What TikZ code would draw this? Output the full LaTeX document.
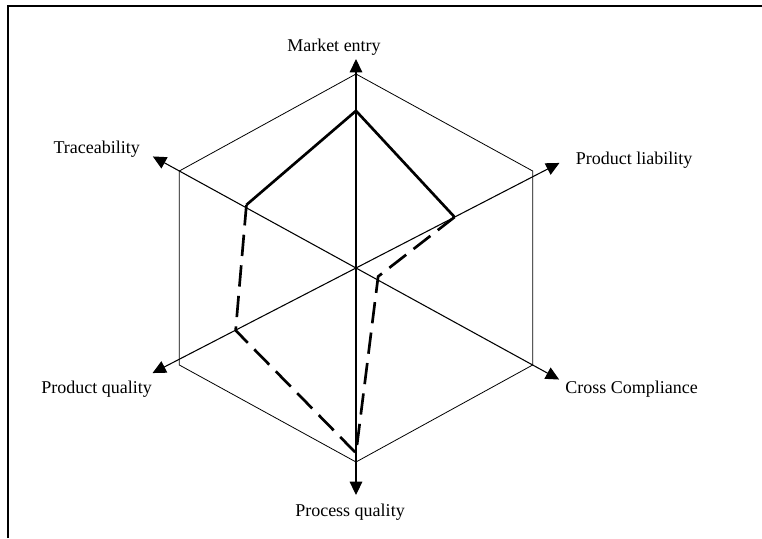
\documentclass[tikz,border=0pt]{standalone}
\usepackage{fontspec}
\setmainfont{Liberation Serif}
\usetikzlibrary{arrows.meta}
\begin{document}
\begin{tikzpicture}[x=153pt,y=145.5pt,
    axis/.style={line width=0.8pt,{Triangle[length=10pt,width=9.5pt]}-{Triangle[length=10pt,width=9.5pt]}},
    rim/.style={line width=0.6pt},
    score/.style={line width=2pt},
    scoredash/.style={score,dash pattern=on 16pt off 7pt},
    lbl/.style={anchor=base,inner sep=0pt,font=\fontsize{13.5}{16}\selectfont}]
      \useasboundingbox (-267pt,-202.5pt) rectangle (304.5pt,201pt);
      \draw[line width=1.5pt] (-261pt,-202.5pt) -- (-261pt,196.5pt) -- (304.5pt,196.5pt);
      % axis ends
      \path
        (90:1.077) coordinate (me)
        (28.5:1.135) coordinate (pl)
        (-30:1.15) coordinate (cc)
        (270:1.17) coordinate (pcq)
        (208.5:1.135) coordinate (pdq)
        (150:1.15) coordinate (tr);
      % hexagon corners
      \path
        (90:1) coordinate (h0)
        (30:1) coordinate (h1)
        (-30:1) coordinate (h2)
        (270:1) coordinate (h3)
        (210:1) coordinate (h4)
        (150:1) coordinate (h5);
      % scores
      \path
        (90:0.81) coordinate (sme)
        (28.5:0.55) coordinate (spl)
        (-22:0.117) coordinate (scc)
        (270:0.954) coordinate (spcq)
        (208.6:0.672) coordinate (spdq)
        (148.8:0.628) coordinate (str);
      \draw[rim] (h0) -- (h1) -- (h2) -- (h3) -- (h4) -- (h5) -- cycle;
      \begin{scope}[axis]
        \draw (pcq) to (me);
        \draw (cc) to (tr);
        \draw (pdq) to (pl);
      \end{scope}
      \draw[score] (str) -- (sme) -- (spl);
      \draw[scoredash] (spl) -- (scc) -- (spcq) -- (spdq) -- (str);
      \node[lbl] (lme) at (-16.5pt,162.2pt) {Market entry};
      \node[lbl] (lpl) at (208.5pt,77.25pt) {Product liability};
      \node[lbl] (lcc) at (206.7pt,-94pt) {Cross Compliance};
      \node[lbl] (lpcq) at (-4.5pt,-186.5pt) {Process quality};
      \node[lbl] (lpdq) at (-194.6pt,-93.75pt) {Product quality};
      \node[lbl] (ltr) at (-194.5pt,85.5pt) {Traceability};
\end{tikzpicture}
\end{document}
